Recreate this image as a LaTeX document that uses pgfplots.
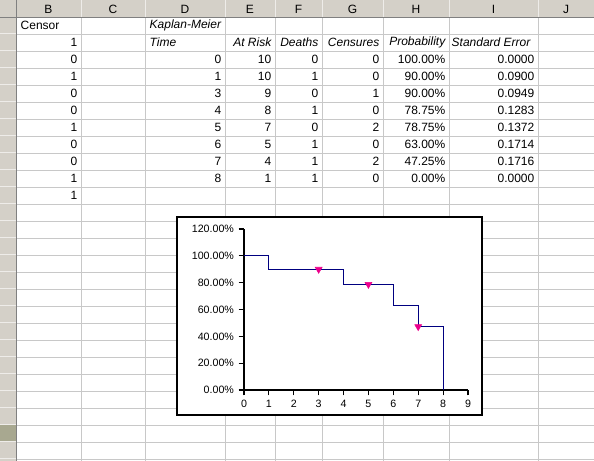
\documentclass[border=0pt]{standalone}
\usepackage{pgfplots}
\pgfplotsset{compat=1.18}
\usepackage{fontspec}
\setmainfont{Liberation Sans}
\definecolor{hdr}{HTML}{D4D0C8}
\definecolor{gridc}{HTML}{C8C8C8}
\definecolor{sel}{HTML}{A8A890}
\begin{document}
\begin{tikzpicture}[font=\fontsize{9}{10}\selectfont]
\begin{scope}[x=0.75pt,y=-0.75pt]
\useasboundingbox (0,0) rectangle (594,461);
\fill[white] (0,0) rectangle (594,461);
% headers
\fill[hdr] (0,0) rectangle (594,17);
\fill[hdr] (0,0) rectangle (16,461);
\fill[sel] (0,425) rectangle (16,442);
\foreach \xx in {16,81,145,225,275,322,383,449,538} {\draw[white!60!hdr] (\xx+0.5,0)--(\xx+0.5,17);}
\foreach \k in {1,...,26} {\draw[white!60!hdr] (0,{17+17*\k-0.5})--(16,{17+17*\k-0.5});}
% grid
\foreach \xx in {81,145,225,275,322,383,449,538} {\draw[gridc] (\xx,17)--(\xx,461);}
\foreach \k in {1,...,26} {\draw[gridc] (16,{17+17*\k})--(594,{17+17*\k});}
\draw[gray] (0,17)--(594,17);
\draw[gray] (16,0)--(16,461);
% column letters
\foreach \c/\xx in {B/48.5,C/113,D/185,E/250,F/298.5,G/352.5,H/416,I/493.5,J/566} {\node at (\xx,9) {\c};}
% cells
\newcommand{\rr}[1]{17+17*#1-8.5}
\node[anchor=west] at (16,{\rr{1}}) {Censor};
\begin{scope}
\clip (145,{\rr{1}-8}) rectangle (225,{\rr{1}+8});
\node[anchor=west] at (145,{\rr{1}}) {\itshape Kaplan-Meier};
\end{scope}
\foreach \v [count=\r from 2] in {1,0,1,0,0,1,0,0,1,1} {\node[anchor=east] at (82,{\rr{\r}}) {\v};}
\node[anchor=west] at (145,{\rr{2}}) {\itshape Time};
\node[anchor=east] at (276,{\rr{2}}) {\itshape At Risk};
\node[anchor=east] at (323,{\rr{2}}) {\itshape Deaths};
\node[anchor=east] at (384,{\rr{2}}) {\itshape Censures};
\node[anchor=east] at (450,{\rr{2}}) {\itshape Probability};
\begin{scope}
\clip (449,{\rr{2}-8}) rectangle (538,{\rr{2}+8});
\node[anchor=west] at (447,{\rr{2}}) {\itshape Standard Error};
\end{scope}
\foreach \t/\a/\d/\cc/\p/\s [count=\r from 3] in {0/10/0/0/100.00\%/0.0000,1/10/1/0/90.00\%/0.0900,3/9/0/1/90.00\%/0.0949,4/8/1/0/78.75\%/0.1283,5/7/0/2/78.75\%/0.1372,6/5/1/0/63.00\%/0.1714,7/4/1/2/47.25\%/0.1716,8/1/1/0/0.00\%/0.0000} {
\node[anchor=east] at (226,{\rr{\r}}) {\t};
\node[anchor=east] at (276,{\rr{\r}}) {\a};
\node[anchor=east] at (323,{\rr{\r}}) {\d};
\node[anchor=east] at (384,{\rr{\r}}) {\cc};
\node[anchor=east] at (450,{\rr{\r}}) {\p};
\node[anchor=east] at (539,{\rr{\r}}) {\s};
}
% chart box
\draw[fill=white,line width=0.9pt] (177,217) rectangle (482,415);
\end{scope}
\begin{axis}[at={(183pt,-292.5pt)},anchor=south west,scale only axis,
  width=168pt,height=120.75pt,
  xmin=0,xmax=9,ymin=0,ymax=120,
  axis lines=left,axis line style={-,line width=0.8pt},
  xtick={0,...,9},ytick={0,20,...,120},
  yticklabel={\pgfmathprintnumber[fixed,fixed zerofill,precision=2]{\tick}\%},
  tick style={black,line width=0.8pt},
  tick align=outside,major tick length=4pt,
  ticklabel style={font=\fontsize{8}{9}\selectfont},
  /pgf/number format/assume math mode=true,
  clip=false]
\addplot[const plot mark left,color={rgb,255:red,0;green,0;blue,128},line width=0.7pt] coordinates {(0,100) (1,90) (4,78.75) (6,63) (7,47.25) (8,0)};
\addplot[only marks,mark=triangle*,mark options={rotate=180,fill=magenta,draw=magenta},mark size=3pt,color=magenta] coordinates {(3,90) (5,78.75) (7,47.25)};
\end{axis}
\end{tikzpicture}
\end{document}
